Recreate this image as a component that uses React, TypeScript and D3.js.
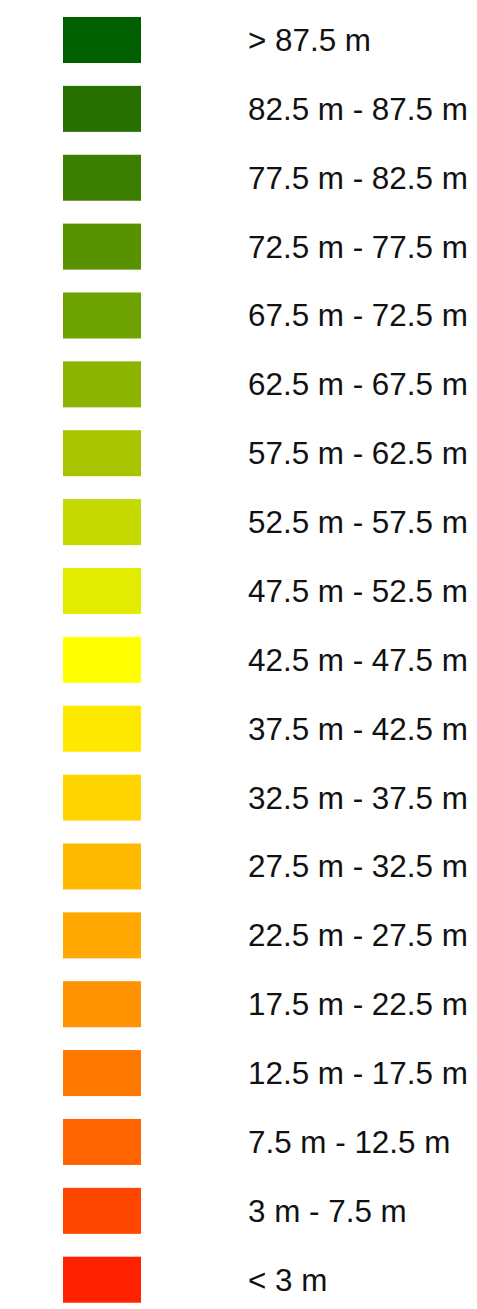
import React from "react";
import { scalePoint } from "d3";

const labels: string[] = [
  "> 87.5 m",
  "82.5 m - 87.5 m",
  "77.5 m - 82.5 m",
  "72.5 m - 77.5 m",
  "67.5 m - 72.5 m",
  "62.5 m - 67.5 m",
  "57.5 m - 62.5 m",
  "52.5 m - 57.5 m",
  "47.5 m - 52.5 m",
  "42.5 m - 47.5 m",
  "37.5 m - 42.5 m",
  "32.5 m - 37.5 m",
  "27.5 m - 32.5 m",
  "22.5 m - 27.5 m",
  "17.5 m - 22.5 m",
  "12.5 m - 17.5 m",
  "7.5 m - 12.5 m",
  "3 m - 7.5 m",
  "< 3 m",
];

const colors: string[] = [
  "#005f00",
  "#267000",
  "#3b7e00",
  "#589200",
  "#6ea200",
  "#8ab400",
  "#a8c400",
  "#c4d900",
  "#e2ec00",
  "#ffff00",
  "#ffe800",
  "#ffd400",
  "#ffba00",
  "#ffa800",
  "#ff9200",
  "#ff7800",
  "#ff6400",
  "#ff4600",
  "#ff2200",
];

const width = 477;
const height = 1309;
const swatch = { x: 63, w: 78, h: 46 };
const textX = 248;

const App: React.FC = () => {
  const yScale = scalePoint<string>()
    .domain(labels)
    .range([40, 1279.7]);

  return (
    <svg
      width={width}
      height={height}
      style={{ position: "absolute", left: 0, top: 0, background: "#fff" }}
    >
      {labels.map((label, i) => {
        const cy = yScale(label) as number;
        return (
          <g key={label}>
            <rect
              x={swatch.x}
              y={cy - swatch.h / 2}
              width={swatch.w}
              height={swatch.h}
              fill={colors[i]}
            />
            <text
              x={textX}
              y={cy + 11}
              fontFamily="Liberation Sans, Arial, sans-serif"
              fontSize={31.4}
              fill="#111"
            >
              {label}
            </text>
          </g>
        );
      })}
    </svg>
  );
};

export default App;
